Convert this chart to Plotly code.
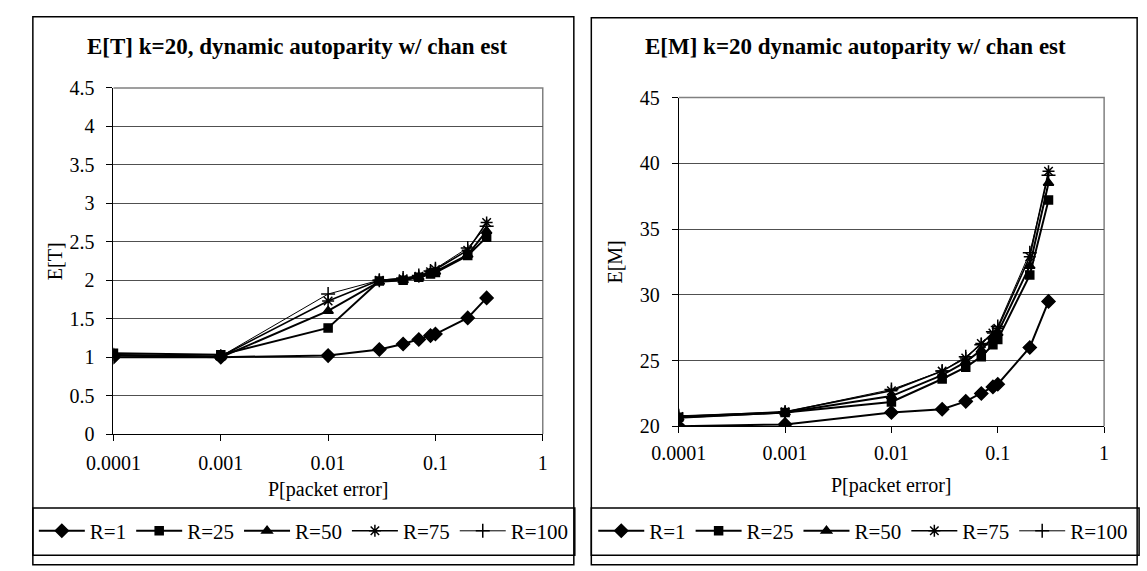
import plotly.graph_objects as go

# Packet-error probabilities on the x axis
p_err = [0.0001, 0.001, 0.01, 0.03, 0.05, 0.07, 0.09, 0.1, 0.2, 0.3]

# E[T] for each R
et_r1 = [1.00, 1.00, 1.02, 1.10, 1.17, 1.23, 1.28, 1.30, 1.51, 1.77]
et_r25 = [1.05, 1.03, 1.38, 1.99, 2.00, 2.04, 2.08, 2.10, 2.32, 2.56]
et_r50 = [1.02, 1.00, 1.60, 1.98, 2.00, 2.04, 2.09, 2.11, 2.33, 2.64]
et_r75 = [1.03, 1.01, 1.73, 2.00, 2.02, 2.05, 2.11, 2.14, 2.39, 2.75]
et_r100 = [1.03, 1.01, 1.82, 2.00, 2.03, 2.06, 2.12, 2.15, 2.42, 2.70]

# E[M] for each R
em_r1 = [20.0, 20.15, 21.05, 21.3, 21.9, 22.5, 23.0, 23.2, 26.0, 29.5]
em_r25 = [20.7, 21.05, 21.85, 23.6, 24.5, 25.3, 26.2, 26.6, 31.5, 37.2]
em_r50 = [20.65, 21.05, 22.3, 23.9, 24.9, 25.8, 26.8, 27.1, 32.2, 38.5]
em_r75 = [20.75, 21.1, 22.7, 24.2, 25.2, 26.3, 27.1, 27.45, 32.9, 39.4]
em_r100 = [20.8, 21.1, 22.8, 24.2, 25.3, 26.2, 27.2, 27.6, 33.2, 39.1]

series_names = ["R=1", "R=25", "R=50", "R=75", "R=100"]
x_tickvals = [0.0001, 0.001, 0.01, 0.1, 1]
x_ticktext = ["0.0001", "0.001", "0.01", "0.1", "1"]

W, H = 1147, 571
FONT = "Liberation Serif"


def px(x):
    return x / W


def py(y):
    return 1 - y / H


styles = [
    dict(symbol="diamond", size=10, lw=2.0),
    dict(symbol="square", size=8, lw=2.0),
    dict(symbol="triangle-up", size=9, lw=2.0),
    dict(symbol="asterisk-open", size=10, lw=1.6),
    dict(symbol="cross-thin-open", size=10, lw=1.0),
]

fig = go.Figure()

panels = [
    dict(xa="x", ya="y", leg="legend", data=[et_r1, et_r25, et_r50, et_r75, et_r100]),
    dict(xa="x2", ya="y2", leg="legend2", data=[em_r1, em_r25, em_r50, em_r75, em_r100]),
]

for panel in panels:
    for name, ys, st in zip(series_names, panel["data"], styles):
        fig.add_trace(go.Scatter(
            x=p_err, y=ys, name=name, mode="lines+markers",
            xaxis=panel["xa"], yaxis=panel["ya"], legend=panel["leg"],
            line=dict(color="black", width=st["lw"]),
            marker=dict(symbol=st["symbol"], size=st["size"], color="black",
                        line=dict(color="black", width=1.5)),
        ))

tick_font = dict(family=FONT, size=20, color="black")

common_x = dict(
    type="log", range=[-4, 0], tickvals=x_tickvals, ticktext=x_ticktext,
    showgrid=False, zeroline=False, showline=True, linecolor="black", linewidth=1,
    ticks="outside", ticklen=6, tickcolor="black", tickfont=tick_font,
)
common_y = dict(
    showgrid=True, gridcolor="#505050", gridwidth=1, zeroline=False,
    showline=True, linecolor="black", linewidth=1,
    ticks="outside", ticklen=6, tickcolor="black", tickfont=tick_font,
    ticklabelstandoff=8,
)

legend_common = dict(orientation="h", xanchor="left", yanchor="middle",
                     font=dict(family=FONT, size=21, color="black"), itemwidth=46,
                     bgcolor="rgba(0,0,0,0)", tracegroupgap=0)

fig.update_layout(
    width=W, height=H, autosize=False,
    margin=dict(l=0, r=0, t=0, b=0),
    paper_bgcolor="white", plot_bgcolor="white",
    font=dict(family=FONT, color="black"),
    xaxis=dict(domain=[px(88), px(530)], anchor="y", ticklabelstandoff=5, **common_x),
    yaxis=dict(domain=[py(440), py(80)], anchor="x", range=[0, 4.5], dtick=0.5, **common_y),
    xaxis2=dict(domain=[px(670), px(1108)], anchor="y2", ticklabelstandoff=3, **common_x),
    yaxis2=dict(domain=[py(432), py(90)], anchor="x2", range=[20, 45], dtick=5, **common_y),
    legend=dict(x=px(6), y=py(541), **legend_common),
    legend2=dict(x=px(582), y=py(541), **legend_common),
)

shapes = []
# Outer chart frames
for x0, x1, y0 in [(5, 562, 6), (580, 1142, 7)]:
    shapes.append(dict(type="rect", xref="paper", yref="paper",
                       x0=px(x0), x1=px(x1), y0=py(y0), y1=py(H + 5),
                       line=dict(color="black", width=1.5)))
# Legend boxes
for x0, x1 in [(5, 563), (580, 1144)]:
    shapes.append(dict(type="rect", xref="paper", yref="paper",
                       x0=px(x0), x1=px(x1), y0=py(517), y1=py(566),
                       line=dict(color="black", width=1.5)))
# Grey plot-area border on top and right sides
for xd, yd in [("x domain", "y domain"), ("x2 domain", "y2 domain")]:
    shapes.append(dict(type="path", xref=xd, yref=yd, path="M 0 1 L 1 1 L 1 0",
                       line=dict(color="#808080", width=1.5), layer="below"))
fig.update_layout(shapes=shapes)

title_font = dict(family=FONT, size=23, color="black")
axis_title_font = dict(family=FONT, size=20, color="black")
texts = [
    dict(text="<b>E[T] k=20, dynamic autoparity w/ chan est</b>", x=277, y=37, font=title_font, angle=0),
    dict(text="<b>E[M] k=20 dynamic autoparity w/ chan est</b>", x=852, y=37, font=title_font, angle=0),
    dict(text="P[packet error]", x=309, y=498, font=axis_title_font, angle=0),
    dict(text="P[packet error]", x=889, y=493, font=axis_title_font, angle=0),
    dict(text="E[T]", x=28, y=260, font=axis_title_font, angle=-90),
    dict(text="E[M]", x=604, y=261, font=axis_title_font, angle=-90),
]
for t in texts:
    fig.add_annotation(text=t["text"], xref="paper", yref="paper", x=px(t["x"]), y=py(t["y"]),
                       showarrow=False, font=t["font"], textangle=t["angle"],
                       xanchor="center", yanchor="middle")

fig.write_html("out.html")
